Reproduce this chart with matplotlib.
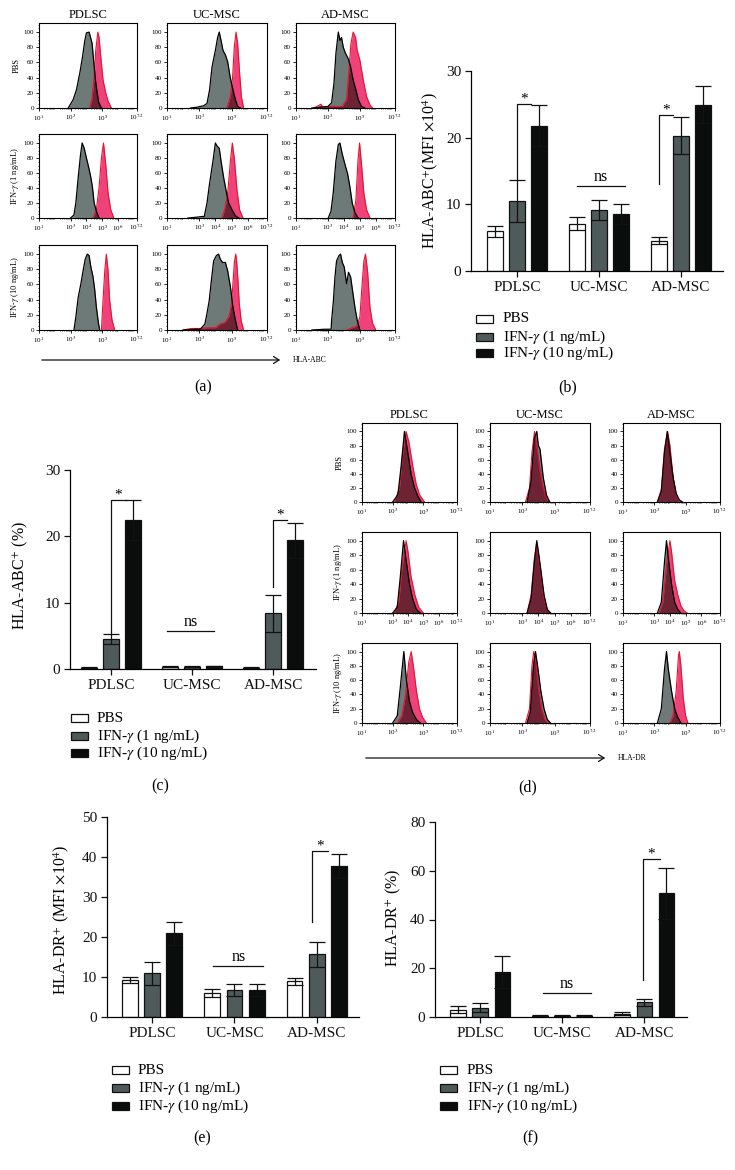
"""HLA-ABC / HLA-DR expression on MSCs: flow histograms and bar summaries."""

import matplotlib
matplotlib.use("Agg")
import matplotlib.pyplot as plt
import numpy as np
from matplotlib.patches import Rectangle
from matplotlib.ticker import MultipleLocator, NullFormatter, LogLocator
from matplotlib.transforms import offset_copy

plt.rcParams["font.family"] = ["Liberation Serif", "DejaVu Serif"]
plt.rcParams["mathtext.fontset"] = "stix"

W, H = 735, 1170

groups = ["PDLSC", "UC-MSC", "AD-MSC"]
treatments = ["PBS", "IFN-$\\gamma$ (1 ng/mL)", "IFN-$\\gamma$ (10 ng/mL)"]
row_labels = ["PBS", "IFN-$\\gamma$ (1 ng/mL)", "IFN-$\\gamma$ (10 ng/mL)"]

# bar summaries: one list per treatment, ordered PDLSC, UC-MSC, AD-MSC
abc_mfi = [[5.95, 7.1, 4.55], [10.5, 9.1, 20.3], [21.8, 8.55, 24.95]]
abc_mfi_err = [[0.8, 1.0, 0.55], [3.1, 1.5, 2.75], [3.1, 1.5, 2.75]]
abc_pct = [[0.2, 0.35, 0.2], [4.55, 0.35, 8.4], [22.5, 0.4, 19.4]]
abc_pct_err = [[0.1, 0.1, 0.1], [0.8, 0.1, 2.75], [3.05, 0.1, 2.65]]
dr_mfi = [[9.3, 6.1, 8.9], [10.9, 6.8, 15.7], [20.9, 6.8, 37.75]]
dr_mfi_err = [[0.7, 1.0, 0.85], [2.8, 1.5, 3.1], [2.8, 1.5, 3.1]]
dr_pct = [[3.0, 0.6, 1.4], [3.8, 0.6, 6.0], [18.6, 0.6, 50.7]]
dr_pct_err = [[1.45, 0.1, 0.6], [1.8, 0.1, 1.55], [6.5, 0.1, 10.3]]

# significance marks: (x of riser, y bottom, y top, x end), and ns line (x0, x1, y)
abc_mfi_sig = [(0.0, 13.6, 25.0, 0.175), (1.73, 13.1, 23.35, 1.906)]
abc_mfi_ns = (0.735, 1.317, 12.7)
abc_pct_sig = [(0.0, 5.35, 25.5, 0.185), (2.0, 12.3, 22.4, 2.17)]
abc_pct_ns = (0.69, 1.27, 5.7)
dr_mfi_sig = [(1.943, 23.75, 41.4, 2.13)]
dr_mfi_ns = (0.745, 1.35, 12.75)
dr_pct_sig = [(1.984, 15.0, 64.9, 2.19)]
dr_pct_ns = (0.77, 1.35, 9.8)

# flow histograms: (log10 intensity, % of max), keyed by (row, column)
abc_gray = {
    (0, 0): [(2.85, 0), (3.16, 11), (3.37, 24), (3.58, 46), (3.75, 67), (3.9, 89), (4.0, 99),
             (4.17, 100), (4.26, 93), (4.36, 85), (4.47, 59), (4.57, 37), (4.68, 20), (4.78, 7), (4.95, 0)],
    (0, 1): [(2.45, 0), (2.86, 1), (3.27, 3), (3.48, 6), (3.64, 24), (3.79, 54), (4.0, 76), (4.14, 93),
             (4.24, 100), (4.35, 89), (4.47, 76), (4.62, 70), (4.76, 61), (4.93, 39), (5.09, 24),
             (5.24, 11), (5.38, 2), (5.55, 0)],
    (0, 2): [(2.0, 0), (2.5, 1), (3.0, 2), (3.23, 7), (3.38, 33), (3.5, 72), (3.65, 100), (3.75, 89),
             (3.85, 93), (3.96, 80), (4.1, 72), (4.27, 65), (4.42, 54), (4.58, 37), (4.75, 24),
             (4.9, 11), (5.1, 2), (5.3, 0)],
    (1, 0): [(3.0, 0), (3.21, 4), (3.33, 20), (3.48, 54), (3.63, 85), (3.73, 100), (3.86, 93), (4.0, 80),
             (4.15, 67), (4.28, 54), (4.38, 41), (4.49, 20), (4.63, 9), (4.8, 0)],
    (1, 1): [(2.3, 0), (2.8, 1), (3.2, 2), (3.31, 2), (3.48, 20), (3.64, 46), (3.85, 76), (4.0, 100),
             (4.1, 96), (4.24, 93), (4.35, 76), (4.51, 54), (4.66, 37), (4.82, 20), (5.03, 11),
             (5.24, 3), (5.45, 0)],
    (1, 2): [(3.02, 0), (3.19, 9), (3.33, 33), (3.5, 76), (3.65, 98), (3.75, 100), (3.9, 85), (4.06, 72),
             (4.23, 59), (4.38, 41), (4.52, 20), (4.69, 7), (4.9, 0)],
    (2, 0): [(3.21, 0), (3.33, 17), (3.48, 43), (3.65, 61), (3.79, 78), (3.92, 93), (4.05, 100),
             (4.17, 98), (4.28, 83), (4.42, 70), (4.53, 52), (4.63, 30), (4.76, 9), (4.84, 0)],
    (2, 1): [(2.0, 0), (2.8, 1), (3.07, 1), (3.35, 8), (3.48, 22), (3.62, 39), (3.75, 65), (3.89, 91),
             (4.06, 98), (4.2, 100), (4.31, 93), (4.45, 89), (4.62, 89), (4.76, 78), (4.93, 57),
             (5.09, 30), (5.24, 13), (5.38, 0)],
    (2, 2): [(2.0, 0), (2.8, 1), (3.2, 1), (3.23, 13), (3.33, 35), (3.44, 70), (3.54, 91), (3.69, 98),
             (3.79, 100), (3.9, 89), (4.02, 83), (4.17, 61), (4.29, 76), (4.42, 70), (4.54, 52),
             (4.69, 30), (4.83, 13), (5.0, 0)],
}
abc_red = {
    (0, 0): [(4.21, 0), (4.35, 12), (4.49, 41), (4.59, 76), (4.72, 100), (4.8, 93), (4.91, 67),
             (5.05, 37), (5.22, 20), (5.37, 9), (5.58, 0)],
    (0, 1): [(4.72, 0), (4.93, 15), (5.07, 41), (5.17, 80), (5.28, 100), (5.38, 85), (5.5, 46),
             (5.61, 15), (5.75, 0)],
    (0, 2): [(2.1, 0), (2.4, 3), (2.55, 5), (2.7, 1), (3.0, 2), (3.5, 2), (3.9, 2), (4.17, 11),
             (4.33, 54), (4.44, 85), (4.58, 100), (4.73, 93), (4.83, 76), (5.0, 63), (5.21, 37),
             (5.42, 15), (5.63, 4), (5.8, 0)],
    (1, 0): [(4.42, 0), (4.63, 11), (4.8, 41), (4.95, 80), (5.08, 100), (5.22, 72), (5.37, 33),
             (5.54, 11), (5.73, 0)],
    (1, 1): [(4.41, 0), (4.62, 15), (4.78, 37), (4.93, 76), (5.05, 100), (5.17, 80), (5.34, 37),
             (5.5, 11), (5.71, 0)],
    (1, 2): [(4.58, 0), (4.75, 24), (4.88, 76), (4.98, 100), (5.1, 72), (5.25, 33), (5.42, 11),
             (5.63, 0)],
    (2, 0): [(4.95, 0), (5.05, 39), (5.16, 78), (5.26, 100), (5.37, 78), (5.47, 39), (5.62, 13),
             (5.79, 0)],
    (2, 1): [(2.0, 0), (2.5, 2), (3.0, 2), (3.5, 3), (4.0, 3), (4.3, 8), (4.6, 10), (4.85, 18),
             (5.0, 35), (5.1, 65), (5.18, 90), (5.26, 100), (5.32, 90), (5.4, 65), (5.48, 35),
             (5.6, 12), (5.75, 0)],
    (2, 2): [(4.2, 0), (4.5, 3), (4.8, 5), (5.0, 17), (5.13, 57), (5.25, 91), (5.35, 100), (5.48, 78),
             (5.63, 30), (5.79, 9), (6.0, 0)],
}
dr_gray = {
    (0, 0): [(3.0, 0), (3.34, 10), (3.55, 50), (3.77, 100), (3.99, 70), (4.2, 40), (4.43, 20),
             (4.65, 8), (4.86, 0)],
    (0, 1): [(3.3, 0), (3.55, 30), (3.75, 90), (3.9, 100), (4.0, 80), (4.1, 75), (4.3, 35), (4.5, 10),
             (4.7, 0)],
    (0, 2): [(3.2, 0), (3.45, 15), (3.65, 70), (3.83, 100), (4.0, 70), (4.2, 35), (4.4, 12), (4.6, 3),
             (4.8, 0)],
    (1, 0): [(3.0, 0), (3.3, 8), (3.5, 50), (3.71, 100), (3.9, 70), (4.1, 40), (4.3, 20), (4.55, 5),
             (4.8, 0)],
    (1, 1): [(3.3, 0), (3.55, 20), (3.75, 70), (3.9, 100), (4.0, 85), (4.15, 60), (4.35, 25),
             (4.55, 5), (4.75, 0)],
    (1, 2): [(3.2, 0), (3.45, 15), (3.65, 70), (3.78, 100), (3.9, 75), (4.1, 40), (4.3, 15), (4.5, 5),
             (4.7, 0)],
    (2, 0): [(3.0, 0), (3.3, 10), (3.5, 50), (3.73, 100), (3.9, 60), (4.1, 30), (4.3, 15), (4.55, 5),
             (4.8, 0)],
    (2, 1): [(3.3, 0), (3.5, 15), (3.7, 80), (3.82, 100), (3.95, 80), (4.15, 45), (4.35, 20),
             (4.55, 5), (4.75, 0)],
    (2, 2): [(3.2, 0), (3.45, 20), (3.65, 75), (3.78, 100), (3.9, 75), (4.1, 45), (4.3, 20), (4.5, 8),
             (4.7, 0)],
}
dr_red = {
    (0, 0): [(3.12, 0), (3.45, 20), (3.66, 70), (3.88, 100), (4.06, 85), (4.32, 50), (4.54, 25),
             (4.76, 10), (5.08, 0)],
    (0, 1): [(3.2, 0), (3.45, 20), (3.6, 70), (3.76, 100), (3.9, 80), (4.1, 45), (4.3, 20), (4.5, 5),
             (4.7, 0)],
    (0, 2): [(3.2, 0), (3.45, 18), (3.65, 75), (3.85, 100), (4.0, 80), (4.2, 35), (4.4, 10), (4.6, 0)],
    (1, 0): [(3.1, 0), (3.4, 15), (3.6, 60), (3.88, 100), (4.0, 85), (4.2, 50), (4.45, 25), (4.7, 8),
             (5.0, 0)],
    (1, 1): [(3.3, 0), (3.55, 25), (3.75, 75), (3.88, 95), (4.0, 80), (4.15, 55), (4.35, 20),
             (4.55, 5), (4.75, 0)],
    (1, 2): [(3.3, 0), (3.55, 15), (3.8, 70), (4.0, 100), (4.1, 85), (4.3, 45), (4.5, 25), (4.7, 10),
             (4.9, 3), (5.1, 0)],
    (2, 0): [(3.3, 0), (3.6, 10), (3.85, 40), (4.05, 85), (4.21, 100), (4.35, 80), (4.55, 45),
             (4.75, 20), (4.95, 8), (5.2, 0)],
    (2, 1): [(3.2, 0), (3.45, 20), (3.6, 80), (3.71, 100), (3.85, 85), (4.0, 50), (4.2, 20), (4.4, 5),
             (4.6, 0)],
    (2, 2): [(4.0, 0), (4.2, 10), (4.4, 45), (4.55, 95), (4.6, 100), (4.7, 80), (4.85, 35), (5.0, 10),
             (5.15, 0)],
}

GRAY_FILL = "#6d7a78"
RED_FILL = "#f0427a"
RED_LINE = "#e3142f"
OVERLAP = "#6e2335"
BAR_COLORS = ["white", "#4f5a5a", "#0b0d0d"]
INK = "#111111"

fig = plt.figure(figsize=(W / 100, H / 100), dpi=100)


def rect(x0, y0, x1, y1):
    """Pixel box (top-left origin) -> figure fraction rect."""
    return [x0 / W, 1 - y1 / H, (x1 - x0) / W, (y1 - y0) / H]


def fx(x):
    return x / W


def fy(y):
    return 1 - y / H


def draw_hist(ax, gray, red):
    gx, gy = np.array(gray, dtype=float).T
    rx, ry = np.array(red, dtype=float).T
    ax.fill_between(10 ** gx, gy, 0, color=GRAY_FILL, lw=0)
    ax.fill_between(10 ** rx, ry, 0, color=RED_FILL, lw=0)
    grid = np.linspace(1, 7.2, 1500)
    both = np.minimum(np.interp(grid, gx, gy, left=0, right=0),
                      np.interp(grid, rx, ry, left=0, right=0))
    ax.fill_between(10 ** grid, both, 0, color=OVERLAP, lw=0)
    ax.plot(10 ** rx, ry, color=RED_LINE, lw=0.8)
    ax.plot(10 ** gx, gy, color="black", lw=0.9)


def hist_grid(cols, rows, gray, red, title_y, ylab_x):
    for r, (y0, y1) in enumerate(rows):
        for c, (x0, x1) in enumerate(cols):
            ax = fig.add_axes(rect(x0, y0, x1, y1))
            draw_hist(ax, gray[(r, c)], red[(r, c)])
            ax.set_xscale("log")
            ax.set_xlim(10, 10 ** 7.2)
            ax.set_ylim(0, 112)
            ax.set_yticks(range(0, 101, 20))
            ax.yaxis.set_minor_locator(MultipleLocator(5))
            exps = [1, 3, 4, 5, 6, 7.2] if r == 1 else [1, 3, 5, 7.2]
            ax.set_xticks([10 ** e for e in exps])
            ax.set_xticklabels(["10$^{%s}$" % (int(e) if e == int(e) else e) for e in exps])
            ax.xaxis.set_minor_locator(LogLocator(base=10, subs=np.arange(2, 10) * 1.0, numticks=100))
            ax.xaxis.set_minor_formatter(NullFormatter())
            ax.tick_params(labelsize=5, length=2, width=0.6, pad=1.5)
            ax.tick_params(which="minor", length=1, width=0.4)
            for s in ax.spines.values():
                s.set_linewidth(0.8)
            if r == 0:
                fig.text(fx((x0 + x1) / 2), fy(title_y), groups[c], ha="center", va="center",
                         fontsize=9)
            if c == 0:
                ax.set_ylabel(row_labels[r], fontsize=6)
                ax.yaxis.set_label_coords((ylab_x - x0) / (x1 - x0), 0.5)


def arrow(x0, x1, y, text):
    fig.add_artist(matplotlib.patches.FancyArrowPatch(
        (fx(x0), fy(y)), (fx(x1), fy(y)), transform=fig.transFigure,
        arrowstyle="->,head_length=4,head_width=2.5", color=INK, lw=0.9))
    fig.text(fx(x1 + 10), fy(y), text, ha="left", va="center", fontsize=5.5)


def bar_panel(box, xlim, values, errs, ylim, ystep, ylabel, lab_xy, sig, ns):
    x0, y0, x1, y1 = box
    ax = fig.add_axes(rect(x0, y0, x1, y1))
    pos = np.arange(len(groups))
    offsets = [-0.27, 0.0, 0.27]
    for k in range(3):
        ax.bar(pos + offsets[k], values[k], width=0.19, color=BAR_COLORS[k],
               edgecolor=INK, linewidth=0.9, zorder=2)
        ax.errorbar(pos + offsets[k], values[k], yerr=errs[k], fmt="none", ecolor=INK,
                    elinewidth=0.9, capsize=5.5, capthick=0.9, zorder=3)
    for vx, yb, yt, xe in sig:
        ax.plot([vx, vx, xe], [yb, yt, yt], color=INK, lw=0.9)
        ax.text((vx + xe) / 2, yt, "*", ha="center", va="bottom", fontsize=11,
                transform=offset_copy(ax.transData, fig=fig, y=-1, units="points"))
    nx0, nx1, ny = ns
    ax.plot([nx0, nx1], [ny, ny], color=INK, lw=0.9)
    ax.text((nx0 + nx1) / 2, ny, "ns", ha="center", va="bottom", fontsize=11.5,
            transform=offset_copy(ax.transData, fig=fig, y=1, units="points"))
    ax.set_xlim(*xlim)
    ax.set_ylim(*ylim)
    ax.set_yticks(np.arange(ylim[0], ylim[1] + 0.1, ystep))
    ax.set_xticks(pos)
    ax.set_xticklabels(groups)
    ax.tick_params(labelsize=11, length=4, width=0.9, pad=3, colors=INK)
    for side in ("top", "right"):
        ax.spines[side].set_visible(False)
    for side in ("left", "bottom"):
        ax.spines[side].set_linewidth(0.9)
    # label anchor is the right edge of the rotated text
    ax.set_ylabel(ylabel, fontsize=11.5)
    ax.yaxis.set_label_coords((lab_xy[0] - x0) / (x1 - x0), (y1 - lab_xy[1]) / (y1 - y0))
    return ax


def legend(x_sq, x_txt, ys):
    for y, color, label in zip(ys, BAR_COLORS, treatments):
        fig.patches.append(Rectangle((fx(x_sq), fy(y + 4)), 17 / W, 8 / H, transform=fig.transFigure,
                                     facecolor=color, edgecolor=INK, lw=0.9))
        fig.text(fx(x_txt), fy(y), label, ha="left", va="center", fontsize=11)


# (a) HLA-ABC histograms
hist_grid([(39, 137), (167, 267), (296, 395)], [(23, 108), (134, 218), (245, 330)],
          abc_gray, abc_red, title_y=15, ylab_x=21)
arrow(39, 283, 360, "HLA-ABC")
fig.text(fx(203), fy(387), "(a)", ha="center", va="center", fontsize=11.5)

# (b) HLA-ABC MFI
bar_panel((471, 71, 723, 271), (-0.561, 2.512), abc_mfi, abc_mfi_err, (0, 30), 10,
          "HLA-ABC$^{+}$(MFI $\\times$10$^{4}$)", (440, 171), abc_mfi_sig, abc_mfi_ns)
legend(476, 503, [319, 337, 353])
fig.text(fx(568), fy(387), "(b)", ha="center", va="center", fontsize=11.5)

# (c) HLA-ABC percent
bar_panel((70, 470, 316, 669), (-0.506, 2.53), abc_pct, abc_pct_err, (0, 30), 10,
          "HLA-ABC$^{+}$ (%)", (30, 575), abc_pct_sig, abc_pct_ns)
legend(71, 97, [718, 736, 753])
fig.text(fx(160), fy(786), "(c)", ha="center", va="center", fontsize=11.5)

# (d) HLA-DR histograms
hist_grid([(362, 457), (490, 590), (623, 720)], [(423, 502), (532, 613), (643, 723)],
          dr_gray, dr_red, title_y=415, ylab_x=344)
arrow(363, 608, 758, "HLA-DR")
fig.text(fx(528), fy(787), "(d)", ha="center", va="center", fontsize=11.5)

# (e) HLA-DR MFI
bar_panel((107, 817, 359, 1017), (-0.545, 2.51), dr_mfi, dr_mfi_err, (0, 50), 10,
          "HLA-DR$^{+}$ (MFI $\\times$10$^{4}$)", (71, 920), dr_mfi_sig, dr_mfi_ns)
legend(112, 138, [1070, 1088, 1106])
fig.text(fx(202), fy(1138), "(e)", ha="center", va="center", fontsize=11.5)

# (f) HLA-DR percent
bar_panel((435, 822, 687, 1017), (-0.55, 2.52), dr_pct, dr_pct_err, (0, 80), 20,
          "HLA-DR$^{+}$ (%)", (403, 918), dr_pct_sig, dr_pct_ns)
legend(440, 467, [1070, 1088, 1106])
fig.text(fx(530), fy(1138), "(f)", ha="center", va="center", fontsize=11.5)

fig.savefig("out.png", dpi=100, facecolor="white")
plt.close(fig)
